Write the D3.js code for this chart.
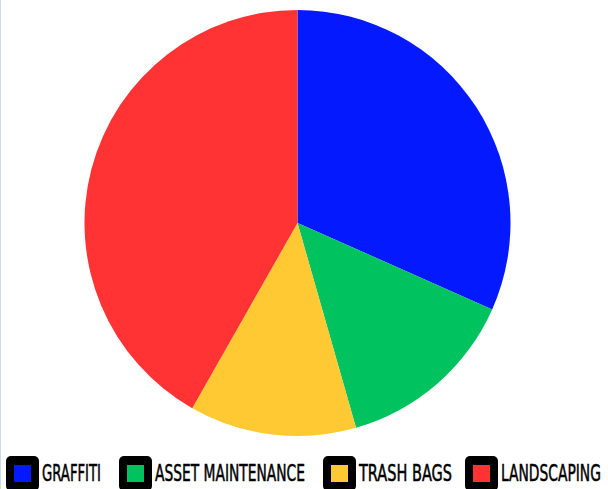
<!DOCTYPE html>
<head>
<meta charset="utf-8">
<style>
body { margin: 0; background: #fff; }
.legend text { font-family: "DejaVu Sans Condensed", "Liberation Sans Narrow", sans-serif; font-size: 23px; fill: #000; stroke: #000; stroke-width: 0.5px; }
</style>
</head>
<body>
<script src="https://d3js.org/d3.v7.min.js"></script>
<script>

// data
var categories = ["GRAFFITI", "ASSET MAINTENANCE", "TRASH BAGS", "LANDSCAPING"];
var values = [25, 11, 10, 33];
var colors = ["#0519ff", "#00c25f", "#ffc933", "#ff3333"];

// layout
var width = 608, height = 489;
var cx = 297.5, cy = 223, radius = 213;
var legendX = [6, 119, 323, 465];      // left edge of each legend box
var labelW = [59, 150, 93, 100];       // label widths in the reference

var svg = d3.select("body").append("svg")
    .attr("width", width)
    .attr("height", height);

// faint left border
svg.append("line")
    .attr("x1", 0.5).attr("x2", 0.5)
    .attr("y1", 0).attr("y2", height)
    .style("stroke", "#cad9ee")
    .style("stroke-width", 1);

var data = categories.map(function(c, i) { return {name: c, value: values[i], color: colors[i]}; });

var pie = d3.pie().sort(null).value(function(d) { return d.value; });
var arc = d3.arc().innerRadius(0).outerRadius(radius);

var g = svg.append("g").attr("transform", "translate(" + cx + "," + cy + ")");

g.selectAll("path")
    .data(pie(data))
  .enter().append("path")
    .attr("d", arc)
    .style("fill", function(d) { return d.data.color; });

// legend
var legend = svg.append("g").attr("class", "legend");
var item = legend.selectAll("g")
    .data(data)
  .enter().append("g")
    .attr("transform", function(d, i) { return "translate(" + legendX[i] + ",456)"; });

item.append("rect")
    .attr("width", 33).attr("height", 35)
    .attr("rx", 5).attr("ry", 5)
    .style("fill", "#000");

item.append("rect")
    .attr("x", 8).attr("y", 9)
    .attr("width", 17).attr("height", 17)
    .style("fill", function(d) { return d.color; });

// squeeze each label to the condensed width of the original font
item.append("text")
    .attr("y", 25.5)
    .text(function(d) { return d.name; })
    .attr("transform", function(d, i) {
      var w = this.getComputedTextLength();
      return "translate(36,0) scale(" + (labelW[i] / w) + ",1)";
    });

</script>
</body>
